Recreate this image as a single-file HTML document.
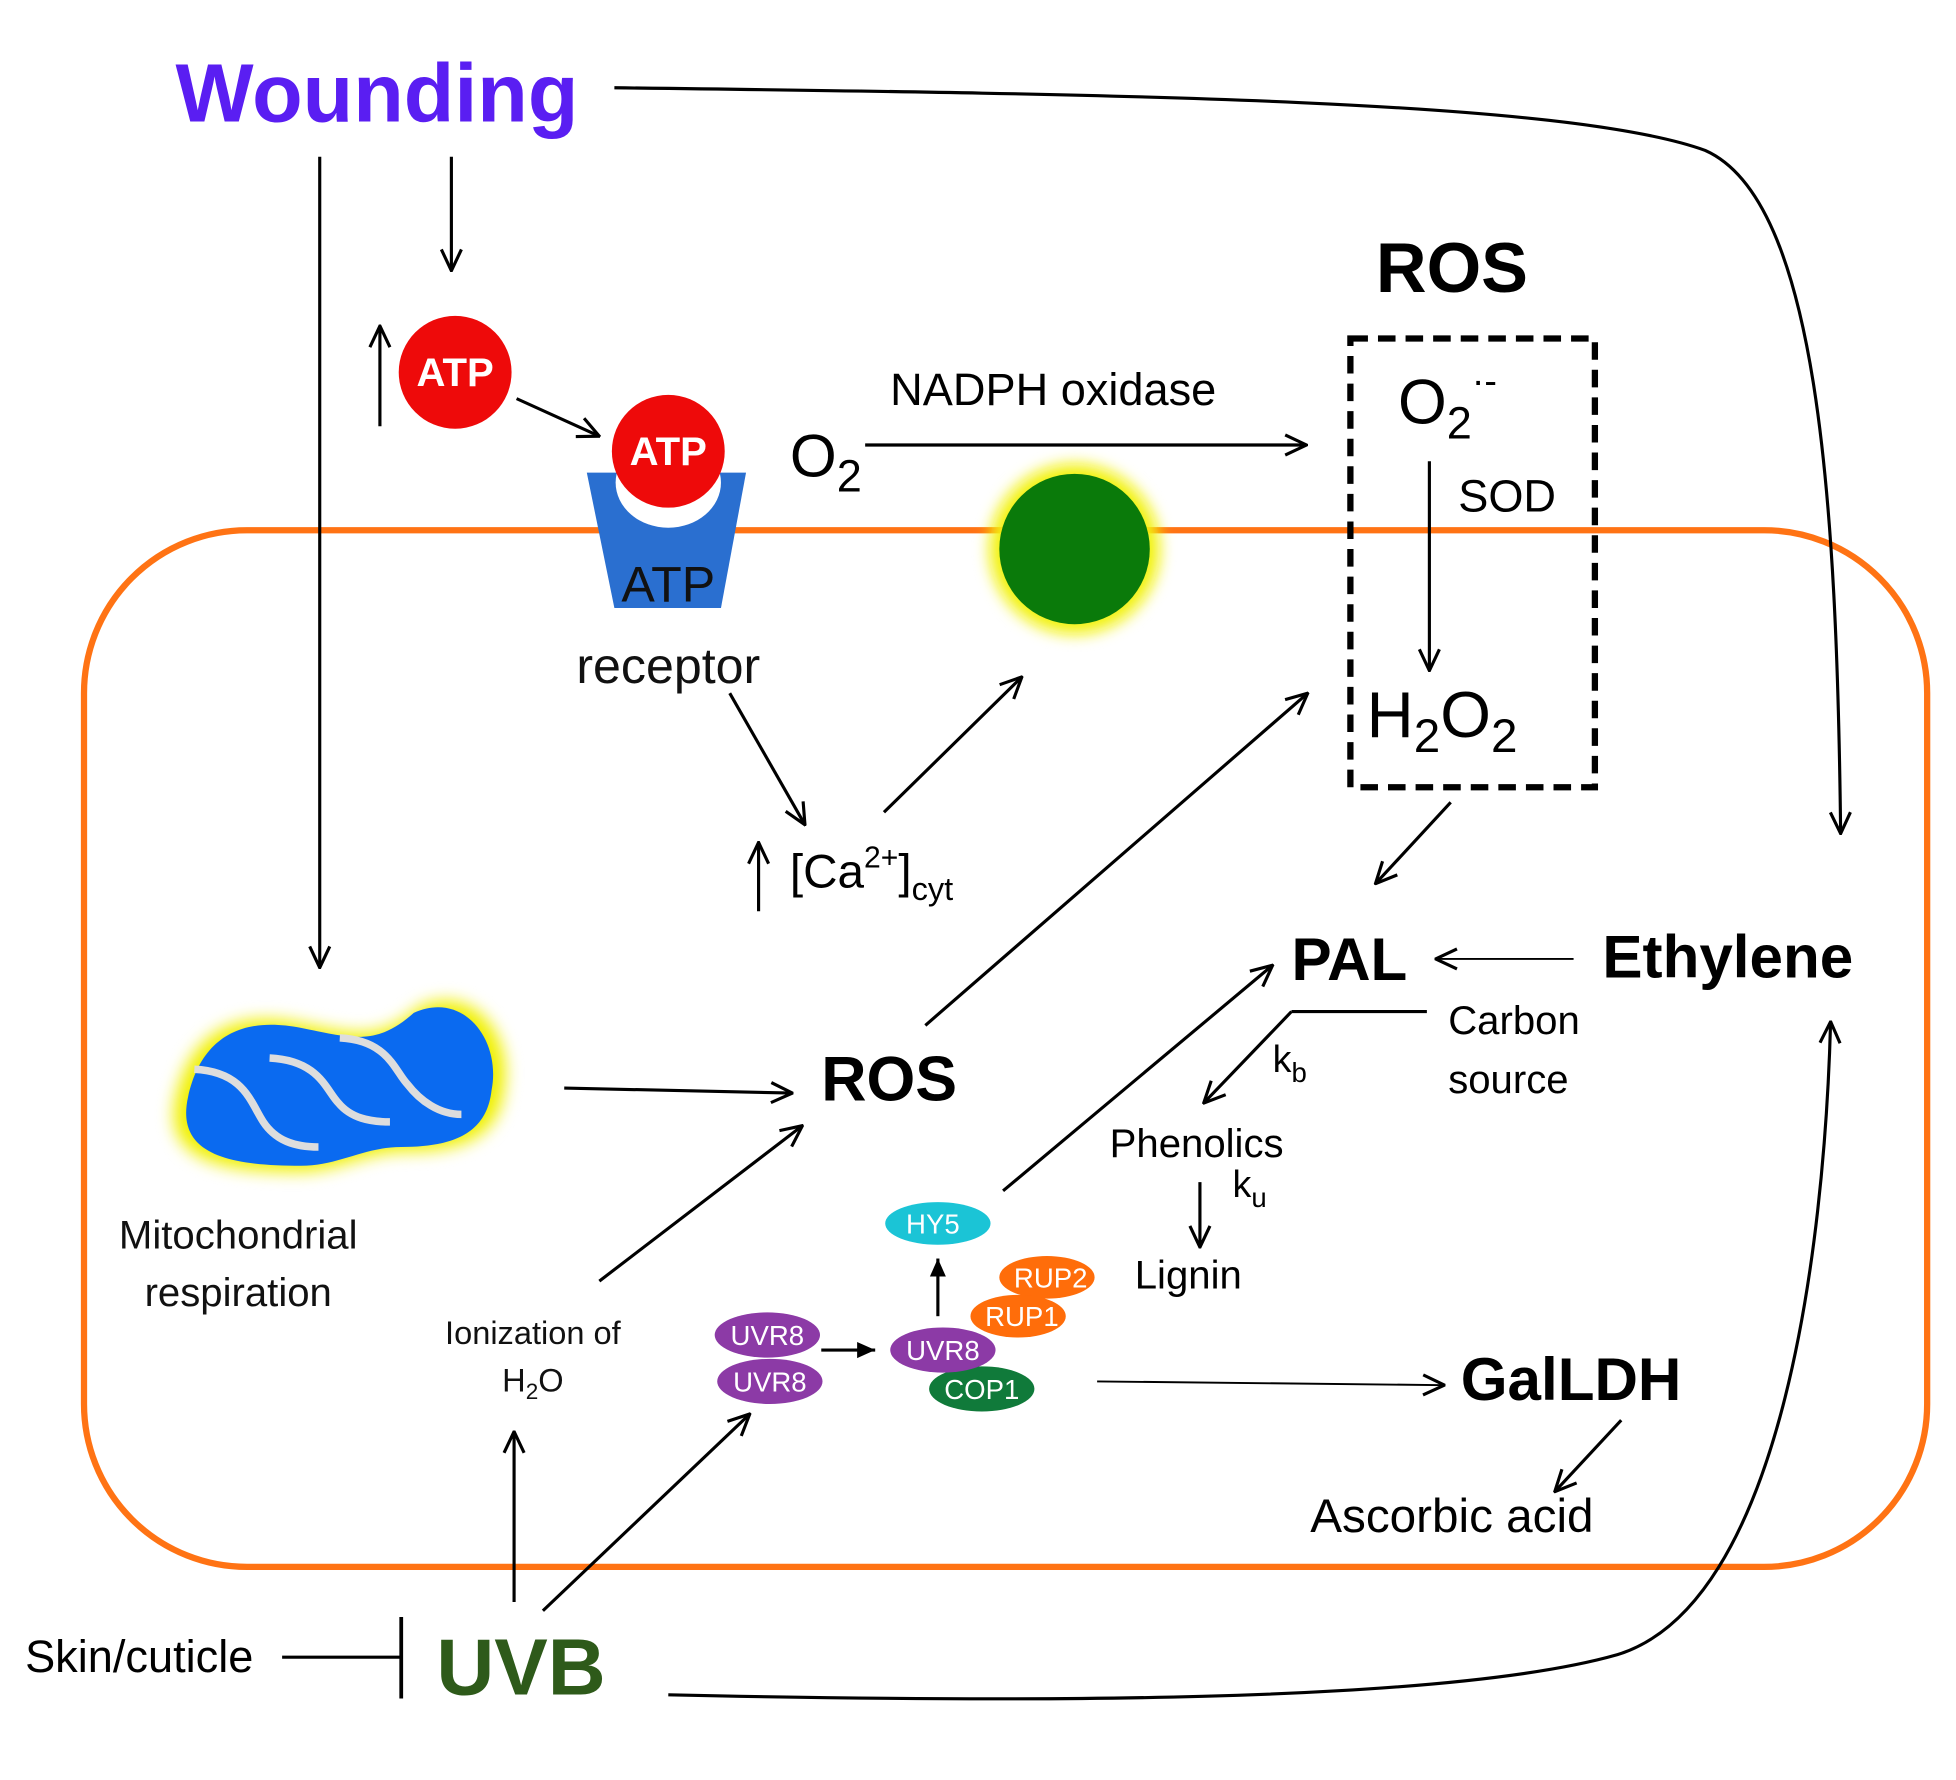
<!DOCTYPE html>
<html><head><meta charset="utf-8"><style>
html,body{margin:0;padding:0;background:#fff;}
svg{display:block;}
text{font-family:"Liberation Sans","DejaVu Sans",sans-serif;}
</style></head><body>
<svg width="1956" height="1780" viewBox="0 0 1560 1420" preserveAspectRatio="none" xmlns="http://www.w3.org/2000/svg">
<defs>
<marker id="a" viewBox="0 0 20 20" refX="19" refY="10" markerWidth="20" markerHeight="20" markerUnits="userSpaceOnUse" orient="auto">
<path d="M2,2 L19,10 L2,18" fill="none" stroke="#000" stroke-width="2.5"/></marker>
<marker id="f" viewBox="0 0 20 20" refX="18" refY="10" markerWidth="16" markerHeight="16" markerUnits="userSpaceOnUse" orient="auto">
<path d="M0,2 L18,10 L0,18 Z" fill="#000"/></marker>
<filter id="glow" x="-50%" y="-50%" width="200%" height="200%"><feGaussianBlur stdDeviation="6"/></filter>
</defs>

<!-- cell -->
<rect x="67" y="423" width="1470" height="827" rx="130" ry="130" fill="none" stroke="#ff7314" stroke-width="5"/>

<!-- Wounding -->
<text x="140" y="97" font-size="66" font-weight="bold" fill="#5a1ef2">Wounding</text>
<path d="M490,70 C900,75 1250,80 1360,120 C1450,160 1465,400 1468,665" fill="none" stroke="#000" stroke-width="2.5" marker-end="url(#a)"/>
<line x1="255" y1="125" x2="255" y2="772" stroke="#000" stroke-width="2.5" marker-end="url(#a)"/>
<line x1="360" y1="125" x2="360" y2="216" stroke="#000" stroke-width="2.5" marker-end="url(#a)"/>
<line x1="303" y1="340" x2="303" y2="260" stroke="#000" stroke-width="2.5" marker-end="url(#a)"/>

<!-- ATP -->
<circle cx="363" cy="297" r="45" fill="#ee0a0a"/>
<text x="363" y="308" font-size="32" font-weight="bold" fill="#fff" text-anchor="middle">ATP</text>
<line x1="412" y1="318" x2="478" y2="348" stroke="#000" stroke-width="2.5" marker-end="url(#a)"/>
<path d="M468,377 L595,377 L575,485 L490,485 Z" fill="#2a6fd0"/>
<ellipse cx="533" cy="385" rx="42" ry="36" fill="#fff"/>
<circle cx="533" cy="360" r="45" fill="#ee0a0a"/>
<text x="533" y="371" font-size="32" font-weight="bold" fill="#fff" text-anchor="middle">ATP</text>
<text x="533" y="480" font-size="40" fill="#111" text-anchor="middle">ATP</text>
<text x="533" y="545" font-size="40" fill="#111" text-anchor="middle">receptor</text>

<!-- O2 NADPH -->
<text x="630" y="380" font-size="48" fill="#000">O<tspan font-size="36" dy="12">2</tspan></text>
<line x1="690" y1="355" x2="1042" y2="355" stroke="#000" stroke-width="2.5" marker-end="url(#a)"/>
<text x="840" y="323" font-size="36" fill="#000" text-anchor="middle">NADPH oxidase</text>
<circle cx="857" cy="438" r="68" fill="#f2f20a" filter="url(#glow)"/>
<circle cx="857" cy="438" r="60" fill="#0a7a0a"/>

<!-- ROS box -->
<text x="1158" y="233" font-size="56" font-weight="bold" fill="#000" text-anchor="middle">ROS</text>
<rect x="1077" y="270" width="195" height="358" fill="none" stroke="#000" stroke-width="5" stroke-dasharray="14,8"/>
<text x="1115" y="338" font-size="50" fill="#000">O<tspan font-size="36" dy="12">2</tspan><tspan font-size="30" dy="-36">·-</tspan></text>
<text x="1163" y="408" font-size="36" fill="#000">SOD</text>
<line x1="1140" y1="368" x2="1140" y2="535" stroke="#000" stroke-width="2.5" marker-end="url(#a)"/>
<text x="1090" y="588" font-size="52" fill="#000">H<tspan font-size="38" dy="12">2</tspan><tspan dy="-12">O</tspan><tspan font-size="38" dy="12">2</tspan></text>
<line x1="1157" y1="640" x2="1097" y2="705" stroke="#000" stroke-width="2.5" marker-end="url(#a)"/>

<!-- PAL / Ethylene -->
<text x="1030" y="782" font-size="48" font-weight="bold" fill="#000">PAL</text>
<line x1="1255" y1="765" x2="1145" y2="765" stroke="#000" stroke-width="1.5" marker-end="url(#a)"/>
<text x="1278" y="780" font-size="48" font-weight="bold" fill="#000">Ethylene</text>
<polyline points="1138,807 1030,807" fill="none" stroke="#000" stroke-width="2.5"/>
<line x1="1030" y1="807" x2="960" y2="880" stroke="#000" stroke-width="2.5" marker-end="url(#a)"/>
<text x="1015" y="855" font-size="30" fill="#000">k<tspan font-size="22" dy="8">b</tspan></text>
<text x="1155" y="825" font-size="32" fill="#000">Carbon</text>
<text x="1155" y="872" font-size="32" fill="#000">source</text>
<text x="885" y="923" font-size="32" fill="#000">Phenolics</text>
<line x1="957" y1="943" x2="957" y2="995" stroke="#000" stroke-width="2.5" marker-end="url(#a)"/>
<text x="983" y="955" font-size="30" fill="#000">k<tspan font-size="22" dy="8">u</tspan></text>
<text x="905" y="1028" font-size="32" fill="#000">Lignin</text>

<!-- ROS middle -->
<text x="655" y="878" font-size="50" font-weight="bold" fill="#000">ROS</text>
<line x1="450" y1="868" x2="632" y2="872" stroke="#000" stroke-width="2.5" marker-end="url(#a)"/>
<line x1="738" y1="818" x2="1043" y2="553" stroke="#000" stroke-width="2.5" marker-end="url(#a)"/>
<line x1="478" y1="1022" x2="640" y2="898" stroke="#000" stroke-width="2.5" marker-end="url(#a)"/>
<line x1="800" y1="950" x2="1015" y2="770" stroke="#000" stroke-width="2.5" marker-end="url(#a)"/>

<!-- Ca -->
<line x1="582" y1="553" x2="642" y2="658" stroke="#000" stroke-width="2.5" marker-end="url(#a)"/>
<line x1="705" y1="648" x2="815" y2="540" stroke="#000" stroke-width="2.5" marker-end="url(#a)"/>
<line x1="605" y1="727" x2="605" y2="672" stroke="#000" stroke-width="2.5" marker-end="url(#a)"/>
<text x="630" y="708" font-size="38" fill="#000">[Ca<tspan font-size="24" dy="-16">2+</tspan><tspan dy="16">]</tspan><tspan font-size="26" dy="10">cyt</tspan></text>

<!-- Mitochondrion -->
<path d="M150,875 C160,830 190,810 240,820 C280,828 300,835 330,808 C370,790 400,830 392,870 C388,905 360,915 320,915 C290,915 270,930 240,930 C180,930 140,920 150,875 Z" fill="#f0f000" filter="url(#glow)" transform="translate(271,870) scale(1.08) translate(-271,-870)"/>
<path d="M150,875 C160,830 190,810 240,820 C280,828 300,835 330,808 C370,790 400,830 392,870 C388,905 360,915 320,915 C290,915 270,930 240,930 C180,930 140,920 150,875 Z" fill="#0a6af0"/>
<path d="M155,853 C195,855 200,880 210,895 C220,910 235,915 254,915" fill="none" stroke="#ddd" stroke-width="6"/>
<path d="M215,844 C255,846 260,870 270,880 C280,892 295,895 311,895" fill="none" stroke="#ddd" stroke-width="6"/>
<path d="M271,828 C310,830 315,855 325,865 C335,878 350,889 368,889" fill="none" stroke="#ddd" stroke-width="6"/>
<text x="190" y="996" font-size="32" fill="#111" text-anchor="middle">Mitochondrial</text>
<text x="190" y="1042" font-size="32" fill="#111" text-anchor="middle">respiration</text>

<!-- Ionization -->
<text x="425" y="1072" font-size="26" fill="#111" text-anchor="middle">Ionization of</text>
<text x="425" y="1110" font-size="26" fill="#111" text-anchor="middle">H<tspan font-size="18" dy="6">2</tspan><tspan dy="-6">O</tspan></text>
<line x1="410" y1="1278" x2="410" y2="1142" stroke="#000" stroke-width="2.5" marker-end="url(#a)"/>
<line x1="433" y1="1285" x2="598" y2="1128" stroke="#000" stroke-width="2.5" marker-end="url(#a)"/>

<!-- UVR8 complex -->
<g font-size="22" fill="#fff" text-anchor="middle">
<ellipse cx="612" cy="1065" rx="42" ry="18" fill="#8c3aa6"/><text x="612" y="1073">UVR8</text>
<ellipse cx="614" cy="1102" rx="42" ry="18" fill="#8c3aa6"/><text x="614" y="1110">UVR8</text>
<line x1="655" y1="1077" x2="698" y2="1077" stroke="#000" stroke-width="2.5" marker-end="url(#f)"/>
<ellipse cx="835" cy="1019" rx="38" ry="17" fill="#ff6d0a"/><text x="838" y="1027">RUP2</text>
<ellipse cx="812" cy="1050" rx="38" ry="17" fill="#ff6d0a"/><text x="815" y="1058">RUP1</text>
<ellipse cx="783" cy="1108" rx="42" ry="18" fill="#107a3a"/><text x="783" y="1116">COP1</text>
<ellipse cx="752" cy="1077" rx="42" ry="18" fill="#8c3aa6"/><text x="752" y="1085">UVR8</text>
<ellipse cx="748" cy="976" rx="42" ry="17" fill="#1bc4d6"/><text x="744" y="984">HY5</text>
</g>
<line x1="748" y1="1050" x2="748" y2="1004" stroke="#000" stroke-width="2.5" marker-end="url(#f)"/>
<line x1="875" y1="1102" x2="1152" y2="1105" stroke="#000" stroke-width="1.5" marker-end="url(#a)"/>
<text x="1165" y="1117" font-size="48" font-weight="bold" fill="#000">GalLDH</text>
<line x1="1293" y1="1133" x2="1240" y2="1190" stroke="#000" stroke-width="2.5" marker-end="url(#a)"/>
<text x="1045" y="1222" font-size="38" fill="#000">Ascorbic acid</text>

<!-- UVB -->
<text x="20" y="1334" font-size="36" fill="#000">Skin/cuticle</text>
<line x1="225" y1="1322" x2="320" y2="1322" stroke="#000" stroke-width="2.5"/>
<line x1="320" y1="1290" x2="320" y2="1355" stroke="#000" stroke-width="3"/>
<text x="348" y="1352" font-size="64" font-weight="bold" fill="#2e5a1a">UVB</text>
<path d="M533,1352 C800,1358 1150,1360 1290,1320 C1420,1280 1455,1000 1460,815" fill="none" stroke="#000" stroke-width="2.5" marker-end="url(#a)"/>
</svg>
</body></html>
